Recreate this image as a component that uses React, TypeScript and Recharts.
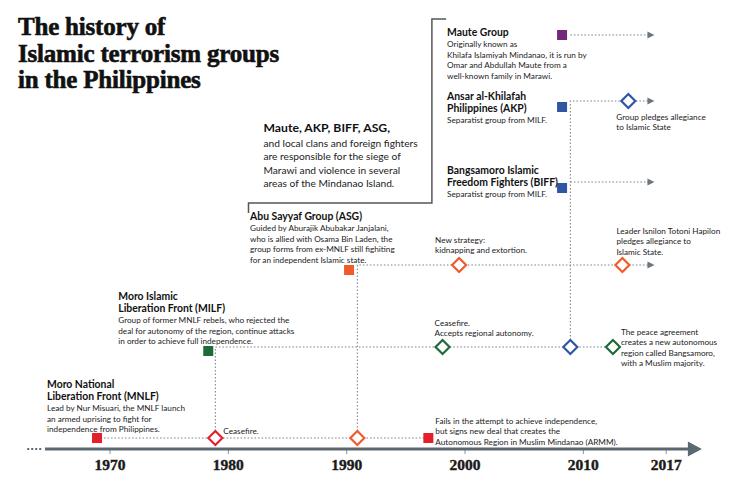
import React from 'react';
import { ComposedChart, Scatter, XAxis, YAxis } from 'recharts';

// time axis ticks
const tickYears = [1970, 1980, 1990, 2000, 2010, 2017];

// vertical "level" of things above the time axis (axis = 0)
// founding squares
const squareYears = [1968.9, 1996.9, 1978.3, 1990.2, 2008.2, 2008.2, 2008.2];
const squareLevels = [1.1, 1.1, 9.8, 17.9, 26.1, 34.2, 41.4];
const squareGroups = ['mnlf', 'mnlf', 'milf', 'asg', 'biff', 'akp', 'maute'];

// milestone diamonds
const diamondYears = [1978.9, 1990.9, 1998.1, 2008.9, 2012.5, 1999.5, 2013.3, 2013.8];
const diamondLevels = [1.1, 1.1, 10.2, 10.2, 10.2, 18.4, 18.4, 34.8];
const diamondGroups = ['mnlf', 'asg', 'milf', 'akp', 'milf', 'asg', 'asg', 'akp'];

// dotted tracks: [year, level] polylines
const mnlfTrack = [[1968.9, 1.1], [1996.9, 1.1]];
const milfTrack = [[1978.9, 1.1], [1978.9, 10.2], [2012.5, 10.2]];
const asgTrack = [[1990.9, 1.1], [1990.9, 18.4], [2015.5, 18.4]];
const akpTrack = [[2008.9, 10.2], [2008.9, 34.8], [2015.5, 34.8]];
const biffTrack = [[2008.9, 26.7], [2015.5, 26.7]];
const mauteTrack = [[2008.9, 41.4], [2015.5, 41.4]];
const tracks = [mnlfTrack, milfTrack, asgTrack, akpTrack, biffTrack, mauteTrack];
const arrowTracks = [asgTrack, akpTrack, biffTrack, mauteTrack];

// time axis
const axisSpan = [[1964.5, 0], [2019, 0]];
const axisLeadIn = [[1963, 0], [1964.3, 0]];

// bracket around the summary text
const bracket = [[1998.4, 43.0], [1997.2, 43.0], [1997.2, 24.6], [1981.7, 24.6], [1981.7, 23.6]];

// annotations, anchored to a mark
const noteAnchors = [
  [1968.9, 1.1], [1978.3, 9.8], [1990.2, 17.9], [2008.2, 26.1], [2008.2, 34.2], [2008.2, 41.4],
  [1978.9, 1.1], [1996.9, 1.1], [1998.1, 10.2], [2012.5, 10.2], [1999.5, 18.4], [2013.3, 18.4],
  [2013.8, 34.8], [1981.7, 24.6],
];
const noteTitles = [
  ['Moro National', 'Liberation Front (MNLF)'],
  ['Moro Islamic', 'Liberation Front (MILF)'],
  ['Abu Sayyaf Group (ASG)'],
  ['Bangsamoro Islamic', 'Freedom Fighters (BIFF)'],
  ['Ansar al-Khilafah', 'Philippines (AKP)'],
  ['Maute Group'],
  [], [], [], [], [], [], [],
  ['Maute, AKP, BIFF, ASG,'],
];
const noteBodies = [
  ['Lead by Nur Misuari, the MNLF launch', 'an armed uprising to fight for', 'independence from Philippines.'],
  ['Group of former MNLF rebels, who rejected the', 'deal for autonomy of the region, continue attacks', 'in order to achieve full independence.'],
  ['Guided by Aburajik Abubakar Janjalani,', 'who is allied with Osama Bin Laden, the', 'group forms from ex-MNLF still fighiting', 'for an independent Islamic state.'],
  ['Separatist group from MILF.'],
  ['Separatist group from MILF.'],
  ['Originally known as', 'Khilafa Islamiyah Mindanao, it is run by', 'Omar and Abdullah Maute from a', 'well-known family in Marawi.'],
  ['Ceasefire.'],
  ['Fails in the attempt to achieve independence,', 'but signs new deal that creates the', 'Autonomous Region in Muslim Mindanao (ARMM).'],
  ['Ceasefire.', 'Accepts regional autonomy.'],
  ['The peace agreement', 'creates a new autonomous', 'region called Bangsamoro,', 'with a Muslim majority.'],
  ['New strategy:', 'kidnapping and extortion.'],
  ['Leader Isnilon Totoni Hapilon', 'pledges allegiance to', 'Islamic State.'],
  ['Group pledges allegiance', 'to Islamic State'],
  ['and local clans and foreign fighters', 'are responsible for the siege of', 'Marawi and violence in several', 'areas of the Mindanao Island.'],
];

// layout of the annotations (pixel offset from anchor to first line)
const noteOffsets = [
  [-50, -54], [-90, -55], [-99, -54], [-115, -18], [-115, -11], [-115, -3],
  [8, -7], [7, -17], [-8, -24], [8, -15], [-24, -25], [-6, -34], [-12, 16], [15, -76],
];
const noteKinds = ['group', 'group', 'group', 'group', 'group', 'group',
  'event', 'event', 'event', 'event', 'event', 'event', 'event', 'lead'];

const noteStyle: Record<string, any> = {
  group: { tSize: 10.4, tLH: 12, gap: 12, bSize: 8.2, bLH: 10.5 },
  event: { tSize: 10.4, tLH: 12, gap: 12, bSize: 8.2, bLH: 10.4 },
  lead: { tSize: 12.2, tLH: 14, gap: 16, bSize: 10.2, bLH: 13.3 },
};

const groupColor: Record<string, string> = {
  mnlf: '#e3202c',
  milf: '#1c6b38',
  asg: '#f15a29',
  biff: '#2f56a3',
  akp: '#2f56a3',
  maute: '#74287c',
};

const AXIS = '#5c6870';
const DOTS = '#80878d';
const FONT = 'Lato, "Open Sans", sans-serif';

const toPts = (arr: number[][]) => arr.map(([x, y]) => ({ x, y }));

const Nothing = () => <g />;

const Square = (p: any) => (
  <rect x={p.cx - 5} y={p.cy - 5} width={10} height={10} fill={groupColor[p.payload.g]} />
);

const Diamond = (p: any) => {
  const r = 7;
  return (
    <polygon
      points={`${p.cx},${p.cy - r} ${p.cx + r},${p.cy} ${p.cx},${p.cy + r} ${p.cx - r},${p.cy}`}
      fill="#fff"
      stroke={groupColor[p.payload.g]}
      strokeWidth={2.2}
    />
  );
};

const Arrow = (p: any) => (
  <polygon points={`${p.cx - 1},${p.cy - 3.5} ${p.cx + 6},${p.cy} ${p.cx - 1},${p.cy + 3.5}`} fill="#6b767e" />
);

const AxisArrow = (p: any) => (
  <polygon points={`${p.cx - 2},${p.cy - 7.5} ${p.cx + 12},${p.cy} ${p.cx - 2},${p.cy + 7.5}`} fill={AXIS} />
);

const Note = (p: any) => {
  const i = p.payload.i;
  const s = noteStyle[noteKinds[i]];
  const x = p.cx + noteOffsets[i][0];
  let y = p.cy + noteOffsets[i][1];
  const out: any[] = [];
  noteTitles[i].forEach((t, k) => {
    out.push(
      <text key={'t' + k} x={x} y={y} dominantBaseline="central" fontFamily={FONT}
        fontWeight={700} fontSize={s.tSize} fill="#111">{t}</text>
    );
    y += s.tLH;
  });
  if (noteTitles[i].length) y += s.gap - s.tLH;
  noteBodies[i].forEach((t, k) => {
    out.push(
      <text key={'b' + k} x={x} y={y} dominantBaseline="central" fontFamily={FONT}
        fontSize={s.bSize} fill="#222">{t}</text>
    );
    y += s.bLH;
  });
  return <g>{out}</g>;
};

const YearTick = (p: any) => (
  <text x={p.x} y={p.y + 8} textAnchor="middle" dominantBaseline="central"
    fontFamily='"Liberation Serif", serif' fontWeight={700} fontSize={15.5} fill="#1a1a1a"
    stroke="#1a1a1a" strokeWidth={0.4}>
    {p.payload.value}
  </text>
);

export default function App() {
  const squares = squareYears.map((x, i) => ({ x, y: squareLevels[i], g: squareGroups[i] }));
  const diamonds = diamondYears.map((x, i) => ({ x, y: diamondLevels[i], g: diamondGroups[i] }));
  const arrows = arrowTracks.map(t => ({ x: t[t.length - 1][0], y: t[t.length - 1][1] }));
  const notes = noteAnchors.map(([x, y], i) => ({ x, y, i }));

  return (
    <div style={{ position: 'absolute', left: 0, top: 0, width: 736, height: 482, background: '#fff' }}>
      <ComposedChart width={736} height={482} margin={{ top: 9, right: 0, bottom: 3, left: 0 }}>
        <XAxis
          type="number"
          dataKey="x"
          domain={[1960.7, 2022.9]}
          ticks={tickYears}
          interval={0}
          height={30}
          axisLine={false}
          tickLine={{ stroke: '#8a949a' }}
          tickSize={5}
          tick={<YearTick />}
        />
        <YAxis type="number" dataKey="y" domain={[0, 44]} hide />

        <Scatter data={toPts(bracket)} shape={Nothing} line={{ stroke: '#555', strokeWidth: 1.5 }} isAnimationActive={false} />
        <Scatter data={toPts(axisLeadIn)} shape={Nothing} line={{ stroke: AXIS, strokeWidth: 2, strokeDasharray: '2 2' }} isAnimationActive={false} />
        <Scatter data={toPts(axisSpan)} shape={Nothing} line={{ stroke: AXIS, strokeWidth: 3 }} isAnimationActive={false} />
        <Scatter data={[{ x: 2019, y: 0 }]} shape={AxisArrow} isAnimationActive={false} />

        {tracks.map((t, k) => (
          <Scatter key={k} data={toPts(t)} shape={Nothing}
            line={{ stroke: DOTS, strokeWidth: 1.1, strokeDasharray: '1.6 1.9' }} isAnimationActive={false} />
        ))}
        <Scatter data={arrows} shape={Arrow} isAnimationActive={false} />
        <Scatter data={squares} shape={Square} isAnimationActive={false} />
        <Scatter data={diamonds} shape={Diamond} isAnimationActive={false} />
        <Scatter data={notes} shape={Note} isAnimationActive={false} />
      </ComposedChart>
      <div style={{
        position: 'absolute', left: 18, top: 14, fontFamily: '"Liberation Serif", serif', fontWeight: 700,
        fontSize: 25, lineHeight: '26.5px', color: '#111', letterSpacing: -0.2,
        WebkitTextStroke: '0.6px #111',
      }}>
        The history of<br />Islamic terrorism groups<br />in the Philippines
      </div>
    </div>
  );
}
